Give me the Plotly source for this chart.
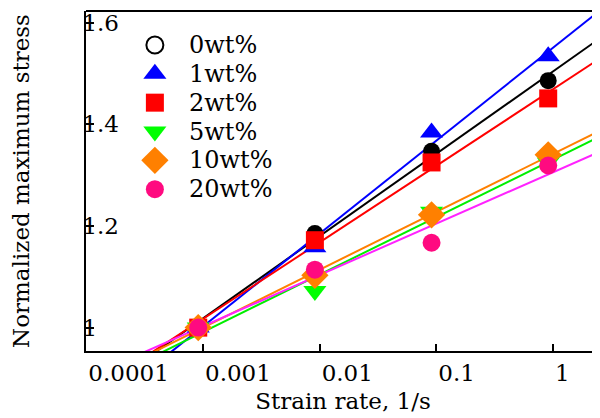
import numpy as np
import plotly.graph_objects as go

# ---- data ----
strain_rate = [0.00091, 0.0091, 0.091, 0.91]
series_names = ["0wt%", "1wt%", "2wt%", "5wt%", "10wt%", "20wt%"]
stress_0wt = [1.0, 1.185, 1.347, 1.486]
stress_1wt = [1.0, 1.158, 1.384, 1.534]
stress_2wt = [1.0, 1.172, 1.325, 1.451]
stress_5wt = [1.0, 1.072, 1.228, 1.325]
stress_10wt = [1.0, 1.103, 1.222, 1.340]
stress_20wt = [1.0, 1.114, 1.167, 1.319]
x_tick_vals = [0.0001, 0.001, 0.01, 0.1, 1]
x_tick_text = ["0.0001", "0.001", "0.01", "0.1", "1"]
y_tick_vals = [1.0, 1.2, 1.4, 1.6]

all_series = [stress_0wt, stress_1wt, stress_2wt, stress_5wt, stress_10wt, stress_20wt]
marker_colors = ["#000000", "#0000ff", "#ff0000", "#00ff00", "#ff8000", "#ff0a80"]
line_colors = ["#000000", "#0000ff", "#ff0000", "#00ee00", "#ff8000", "#ff22ff"]
symbols = ["circle", "triangle-up", "square", "triangle-down", "diamond", "circle"]
legend_symbols = ["circle-open", "triangle-up", "square", "triangle-down", "diamond", "circle"]
sizes = [17, 20, 18, 20, 21, 18]

FONT = "DejaVu Serif"
FS = 23
BLACK = "#000000"
fig = go.Figure()

lx = np.log10(np.array(strain_rate))
x_line = np.array([0.00003, 5.0])
# fitted lines (log-linear least squares of each series)
for ys, lc in zip(all_series, line_colors):
    k, b = np.polyfit(lx, np.array(ys), 1)
    fig.add_trace(go.Scatter(x=x_line, y=k * np.log10(x_line) + b, mode="lines",
                             line=dict(color=lc, width=2), showlegend=False,
                             hoverinfo="skip"))

for name, ys, mc, sym, sz in zip(series_names, all_series, marker_colors, symbols, sizes):
    fig.add_trace(go.Scatter(x=strain_rate, y=ys, mode="markers", name=name,
                             marker=dict(color=mc, symbol=sym, size=sz, line=dict(width=0)),
                             showlegend=False))

# ---- hand-built legend (on an overlay axis in plot-fraction units) ----
leg_x_sym = 0.134      # symbol centre, fraction of plot width
leg_x_txt = 0.196      # text left edge
leg_y0 = 0.9       # first row centre, fraction of plot height
leg_dy = 0.0848        # row step
for i, (name, mc, sym, sz) in enumerate(zip(series_names, marker_colors, legend_symbols, sizes)):
    yy = leg_y0 - i * leg_dy
    mk = dict(color=mc, symbol=sym, size=sz)
    mk["line"] = dict(color=mc, width=2) if sym == "circle-open" else dict(width=0)
    fig.add_trace(go.Scatter(x=[leg_x_sym], y=[yy], mode="markers", name=name, marker=mk,
                             xaxis="x2", yaxis="y2", showlegend=False, hoverinfo="skip"))
    fig.add_annotation(x=leg_x_txt, y=yy, xref="x2", yref="y2", text=name,
                       showarrow=False, xanchor="left", yanchor="middle",
                       font=dict(family=FONT, size=24, color=BLACK))

fig.update_layout(
    template="none",
    width=592, height=410,
    margin=dict(l=78, r=0, t=3, b=67, autoexpand=False),
    paper_bgcolor="white", plot_bgcolor="white",
    font=dict(family=FONT, size=FS, color=BLACK),
    showlegend=False,
    xaxis=dict(type="log", range=[-4.003, 0.403], tickvals=x_tick_vals, ticktext=x_tick_text,
               ticks="inside", ticklen=7, tickwidth=2, tickcolor=BLACK,
               ticklabelposition="outside right", ticklabeloverflow="allow",
               tickfont=dict(family=FONT, size=FS, color=BLACK),
               showline=True, linecolor=BLACK, linewidth=2, mirror=False,
               showgrid=False, zeroline=False, automargin=False,
               title=dict(text="Strain rate, 1/s", standoff=8,
                          font=dict(family=FONT, size=FS, color=BLACK))),
    yaxis=dict(range=[0.954, 1.623], tickvals=y_tick_vals,
               ticks="inside", ticklen=8, tickwidth=2, tickcolor=BLACK,
               ticklabelposition="inside", ticklabelstandoff=-10, ticklabeloverflow="allow",
               tickfont=dict(family=FONT, size=FS, color=BLACK),
               showline=True, linecolor=BLACK, linewidth=2,
               showgrid=False, zeroline=False, automargin=False,
               title=dict(text="Normalized maximum stress", standoff=50,
                          font=dict(family=FONT, size=FS, color=BLACK))),
    xaxis2=dict(overlaying="x", range=[0, 1], visible=False, fixedrange=True),
    yaxis2=dict(overlaying="y", range=[0, 1], visible=False, fixedrange=True),
)
# top border line
fig.add_shape(type="line", xref="paper", yref="paper", x0=0, x1=1, y0=1, y1=1,
              line=dict(color=BLACK, width=2))

fig.write_html("out.html")
